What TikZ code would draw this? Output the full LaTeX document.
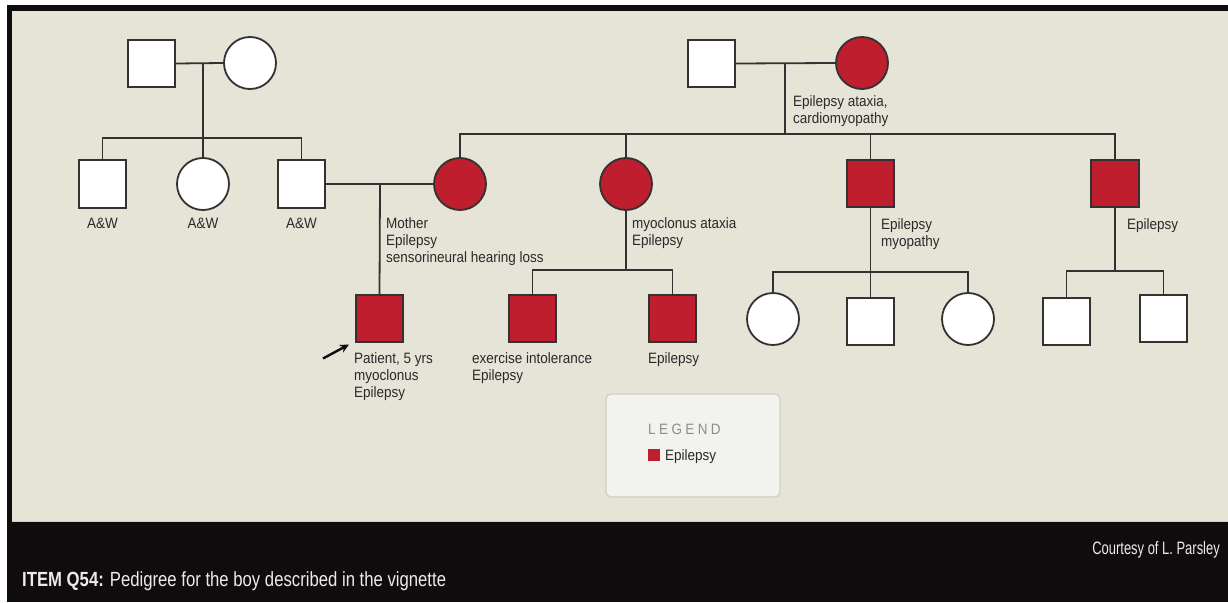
\documentclass[tikz,border=0pt]{standalone}
\usepackage{fontspec}
\setmainfont{Liberation Sans}
\newfontfamily\labfont[FakeStretch=0.9]{Liberation Sans}
\newfontfamily\bandfont[FakeStretch=0.72]{Liberation Sans}
\newfontfamily\titlefont[FakeStretch=0.815]{Liberation Sans}
\usetikzlibrary{arrows.meta}
\definecolor{paper}{HTML}{E6E3D7}
\definecolor{affected}{HTML}{BE1E2D}
\definecolor{ink}{HTML}{333131}
\definecolor{txt}{HTML}{2B2A2A}
\definecolor{band}{HTML}{100C0D}
\definecolor{legendfill}{HTML}{F2F2EE}
\definecolor{legendline}{HTML}{CFCFCA}
\definecolor{legendhead}{HTML}{8C8C8C}
\tikzset{
  male/.style={draw=ink, line width=1.8pt, fill=white, rectangle, minimum size=47.5pt, inner sep=0pt},
  female/.style={draw=ink, line width=1.8pt, fill=white, circle, minimum size=52pt, inner sep=0pt},
  ill/.style={fill=affected},
  link/.style={draw=ink, line width=1.8pt},
  lbl/.style={font=\labfont\fontsize{15}{17}\selectfont, text=txt, inner sep=0pt, align=left, anchor=north west},
  aw/.style={font=\labfont\fontsize{15}{17}\selectfont, text=txt, inner sep=0pt, anchor=base},
}
\begin{document}
\begin{tikzpicture}[x=1pt, y=-1pt]
\useasboundingbox (0,0) rectangle (1228,602);
% frame and caption band
\fill[white] (0,0) rectangle (1228,602);
\fill[band] (7,5) rectangle (1228,602);
\fill[paper] (12,11) rectangle (1228,522);
\draw[legendline, line width=0.8pt] (12,521.5) -- (1228,521.5);

% generation I, paternal side
\node[male] (gf1) at (151.5,63.5) {};
\node[female] (gm1) at (250,63) {};
\coordinate (m1) at (203,63);
\coordinate (s1) at (203,138);
% generation II, paternal side
\node[male] (c1) at (102.5,184) {};
\node[female] (c2) at (203,184) {};
\node[male] (c3) at (301.5,184) {};
\draw[link] (gf1.east) -- (gm1.west);
\draw[link] (m1) -- (c2.north);
\draw[link] (c1.north) |- (s1) -| (c3.north);
\node[aw] (aw1) at (102.5,228.5) {A\&W};
\node[aw] (aw2) at (203,228.5) {A\&W};
\node[aw] (aw3) at (301.5,228.5) {A\&W};

% generation I, maternal side
\node[male] (gf2) at (711.5,63.5) {};
\node[female, ill] (gm2) at (862,63) {};
\coordinate (m3) at (785,63);
\coordinate (s2) at (785,134);
\draw[link] (gf2.east) -- (gm2.west);
\draw[link] (m3) -- (s2);
\node[lbl] (gm2t) at (793,95.5) {Epilepsy ataxia,\\cardiomyopathy};

% generation II, maternal side
\node[female, ill] (mo) at (460,184) {};
\node[female, ill] (au) at (626,184) {};
\node[male, ill] (u3) at (870.5,183.5) {};
\node[male, ill] (u4) at (1115,183.5) {};
\draw[link] (mo.north) |- (s2) -| (u4.north);
\draw[link] (au.north) -- (au.north |- s2);
\draw[link] (u3.north) -- (u3.north |- s2);

% parents of the patient
\coordinate (m2) at (380,184);
\draw[link] (c3.east) -- (mo.west);
\node[lbl] (mot) at (386,217) {Mother\\Epilepsy\\sensorineural hearing loss};
\node[lbl] (aut) at (632,217) {myoclonus ataxia\\Epilepsy};
\node[lbl] (u3t) at (881,218) {Epilepsy\\myopathy};
\node[lbl] (u4t) at (1127,218) {Epilepsy};

% generation III
\node[male, ill] (pt) at (379.5,318.5) {};
\draw[link] (m2) -- (pt.north);
\coordinate (arrtail) at (323,358.5);
\coordinate (arrhead) at (349,344.5);
\draw[line width=2.4pt, band, -{Stealth[length=9pt,width=8.5pt]}] (arrtail) -- (arrhead);
\node[lbl] (ptt) at (354,352) {Patient, 5 yrs\\myoclonus\\Epilepsy};

\coordinate (s3) at (626,270);
\node[male, ill] (k1) at (532.5,318.5) {};
\node[male, ill] (k2) at (672.5,318.5) {};
\draw[link] (au.south) -- (s3);
\draw[link] (k1.north) |- (s3) -| (k2.north);
\node[lbl] (k1t) at (472,352) {exercise intolerance\\Epilepsy};
\node[lbl] (k2t) at (648,352) {Epilepsy};

\coordinate (s4) at (870.5,272);
\node[female] (g1) at (773,319) {};
\node[male] (g2) at (870.5,321.5) {};
\node[female] (g3) at (968,319) {};
\draw[link] (u3.south) -- (g2.north);
\draw[link] (g1.north) |- (s4) -| (g3.north);

\coordinate (s5) at (1115,271);
\node[male] (g4) at (1066.5,321.5) {};
\node[male] (g5) at (1163.5,318.5) {};
\draw[link] (u4.south) -- (s5);
\draw[link] (g4.north) |- (s5) -| (g5.north);

% legend
\draw[legendline, fill=legendfill, line width=1.2pt, rounded corners=5pt] (606,394) rectangle (780,497);
\node[inner sep=0pt, anchor=base west, text=legendhead, font=\labfont\fontsize{15}{17}\selectfont] (lh) at (648,434)
  {L\kern3.4pt E\kern3.4pt G\kern3.4pt E\kern3.4pt N\kern3.4pt D};
\fill[affected] (648,449) rectangle (660,461);
\node[inner sep=0pt, anchor=base west, text=txt, font=\labfont\fontsize{15}{17}\selectfont] (le) at (665,460.5) {Epilepsy};

% caption band
\node[inner sep=0pt, anchor=base east, text=white!92!black, font=\bandfont\fontsize{18}{20}\selectfont] (cr) at (1220,554.5) {Courtesy of L. Parsley};
\node[inner sep=0pt, anchor=base west, text=white!92!black, font=\titlefont\fontsize{20.5}{22}\selectfont] (cap) at (22,586)
  {\textbf{ITEM Q54:}\hspace{6pt}Pedigree for the boy described in the vignette};
\end{tikzpicture}
\end{document}
